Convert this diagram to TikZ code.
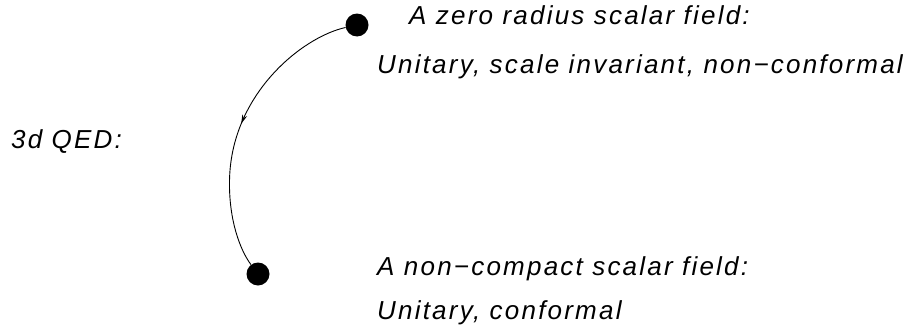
\documentclass[tikz,border=0pt]{standalone}
\usepackage{fontspec}
\setmainfont{Liberation Sans}[LetterSpace=8.5]
\usetikzlibrary{arrows.meta,decorations.markings}
\tikzset{
  dot/.style={circle,fill=black,inner sep=0pt,minimum size=23pt},
  lbl/.style={anchor=base west,inner sep=0pt,font=\fontsize{26}{30}\selectfont\itshape},
  flow/.style={line width=0.9pt,postaction={decorate},
    decoration={markings,mark=at position 0.5 with {\arrow{Stealth[length=9pt,width=5pt]}}}}
}
\begin{document}
\begin{tikzpicture}[x=1pt,y=-1pt]
\useasboundingbox (0,0) rectangle (918,332);
\node[dot] (t) at (357,25) {};
\node[dot] (b) at (258,274) {};
\draw[flow] (t) .. controls (302,37) and (230,95) .. (229.5,182) .. controls (229,220) and (240,250) .. (b);
\node[lbl] (l1) at (409,24) {A zero radius scalar field:};
\node[lbl] (l2) at (377,73) {Unitary, scale invariant, non−conformal};
\node[lbl] (l3) at (11,148) {3d QED:};
\node[lbl] (l4) at (377,275) {A non−compact scalar field:};
\node[lbl] (l5) at (377,319) {Unitary, conformal};
\end{tikzpicture}
\end{document}
